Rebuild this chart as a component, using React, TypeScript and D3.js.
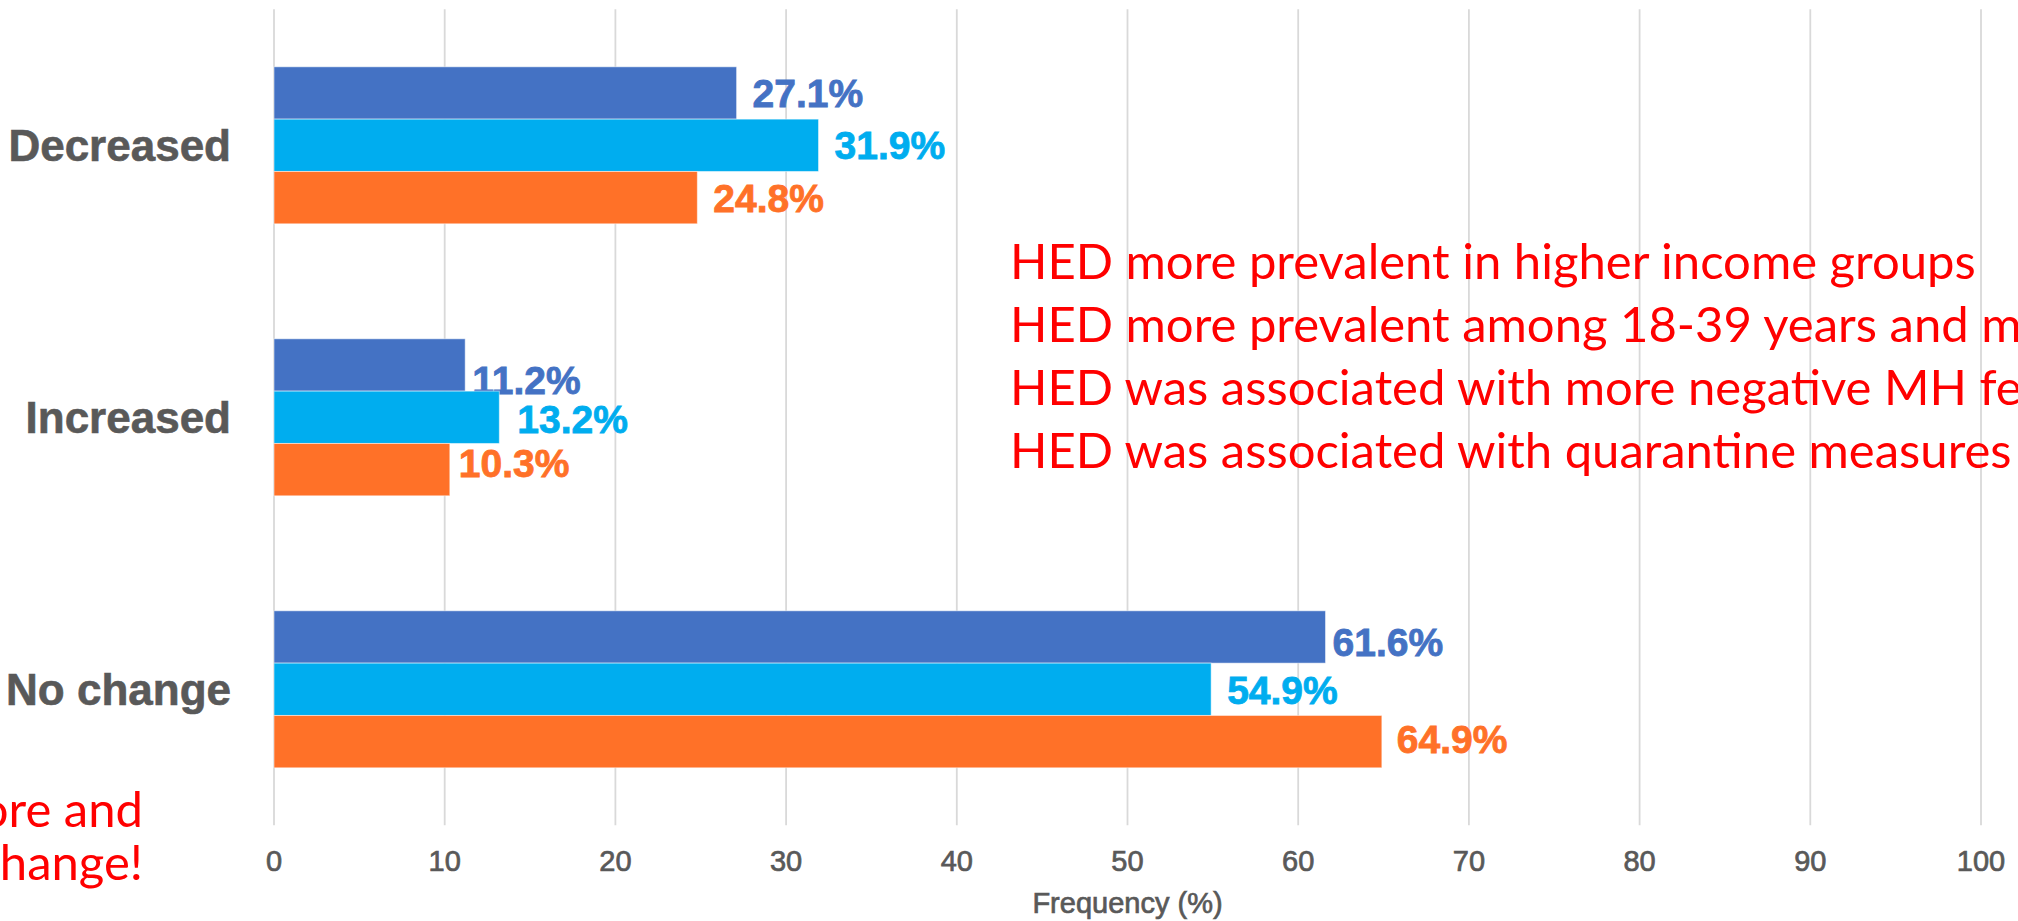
import React, { useLayoutEffect, useRef, useState } from "react";
import * as d3 from "d3";

const categories = ["Decreased", "Increased", "No change"];
const seriesNames = ["Series A", "Series B", "Series C"];
const seriesA = [27.1, 11.2, 61.6];
const seriesB = [31.9, 13.2, 54.9];
const seriesC = [24.8, 10.3, 64.9];
const xTicks = [0, 10, 20, 30, 40, 50, 60, 70, 80, 90, 100];
const xTitle = "Frequency (%)";
const notesRight = [
  "HED more prevalent in higher income groups",
  "HED more prevalent among 18-39 years and m",
  "HED was associated with more negative MH fe",
  "HED was associated with quarantine measures",
];
const notesLeft = ["ore and", "change!"];

const colors = ["#4472C4", "#00ADEF", "#FF7128"];
// label nudges [dx, dy] per category, per series (Excel moved some labels)
const labelNudge = [
  [[16, 0], [16, 0], [16, 0]],
  [[7, 15], [18, 2], [9, -7]],
  [[7, 5], [16, 1], [15, -3]],
];

const W = 2018;
const H = 921;
const FONT = "'Liberation Sans', Arial, sans-serif";
const NOTE_FONT = "Lato, 'Open Sans', sans-serif";

export default function App() {
  const values = [seriesA, seriesB, seriesC];
  const x = d3.scaleLinear().domain([0, 100]).range([274, 1981]);
  const y = d3
    .scaleBand<string>()
    .domain(categories)
    .range([9.3, 825.3])
    .paddingInner(0.4228)
    .paddingOuter(0.2114);
  const yInner = d3
    .scaleBand<string>()
    .domain(seriesNames)
    .range([0, y.bandwidth()]);

  const ref = useRef<SVGTextElement>(null);
  const [sx, setSx] = useState(1);
  useLayoutEffect(() => {
    if (ref.current) {
      const len = ref.current.getComputedTextLength();
      if (len > 0) setSx(966 / len);
    }
  }, []);

  const labelSize = 39;
  return (
    <svg
      width={W}
      height={H}
      style={{ position: "absolute", left: 0, top: 0, display: "block", background: "#fff" }}
    >
      <rect width={W} height={H} fill="#fff" />
      {xTicks.map((t) => (
        <line
          key={"g" + t}
          x1={x(t)}
          x2={x(t)}
          y1={9.3}
          y2={825.3}
          stroke="#D9D9D9"
          strokeWidth={1.8}
        />
      ))}
      {xTicks.map((t) => (
        <text
          key={"t" + t}
          x={x(t)}
          y={871}
          textAnchor="middle"
          fontFamily={FONT}
          fontSize={29}
          fill="#595959"
          stroke="#595959"
          strokeWidth={0.7}
        >
          {t}
        </text>
      ))}
      <text
        x={(x(0) + x(100)) / 2}
        y={913}
        textAnchor="middle"
        fontFamily={FONT}
        fontSize={29}
        fill="#595959"
        stroke="#595959"
        strokeWidth={0.7}
      >
        {xTitle}
      </text>
      {categories.map((c, ci) => (
        <g key={c} transform={`translate(0,${y(c)})`}>
          <text
            x={231}
            y={y.bandwidth() / 2 + 16}
            textAnchor="end"
            fontFamily={FONT}
            fontWeight="bold"
            fontSize={44}
            fill="#595959"
            stroke="#595959"
            strokeWidth={0.6}
          >
            {c}
          </text>
          {seriesNames.map((s, si) => {
            const v = values[si][ci];
            const by = yInner(s) as number;
            const bh = yInner.bandwidth();
            const [dx, dy] = labelNudge[ci][si];
            return (
              <g key={s}>
                <rect
                  x={x(0)}
                  y={by}
                  width={x(v) - x(0)}
                  height={bh}
                  fill={colors[si]}
                  stroke="#ffffff"
                  strokeOpacity={0.5}
                  strokeWidth={1}
                />
                <text
                  x={x(v) + dx}
                  y={by + bh / 2 + labelSize * 0.36 + dy}
                  fontFamily={FONT}
                  fontWeight="bold"
                  fontSize={labelSize}
                  fill={colors[si]}
                  stroke={colors[si]}
                  strokeWidth={0.8}
                >
                  {v.toFixed(1) + "%"}
                </text>
              </g>
            );
          })}
        </g>
      ))}
      <g transform={`translate(1010,0) scale(${sx},1)`}>
        {notesRight.map((n, i) => (
          <text
            key={n}
            ref={i === 0 ? ref : undefined}
            x={0}
            y={279 + i * 63}
            fontFamily={NOTE_FONT}
            fontSize={48}
            fill="#FF0000"
          >
            {n}
          </text>
        ))}
      </g>
      <g transform={`translate(143,0) scale(${sx},1)`}>
        {notesLeft.map((n, i) => (
          <text
            key={n}
            x={0}
            y={827 + i * 53}
            textAnchor="end"
            fontFamily={NOTE_FONT}
            fontSize={48}
            fill="#FF0000"
          >
            {n}
          </text>
        ))}
      </g>
    </svg>
  );
}
